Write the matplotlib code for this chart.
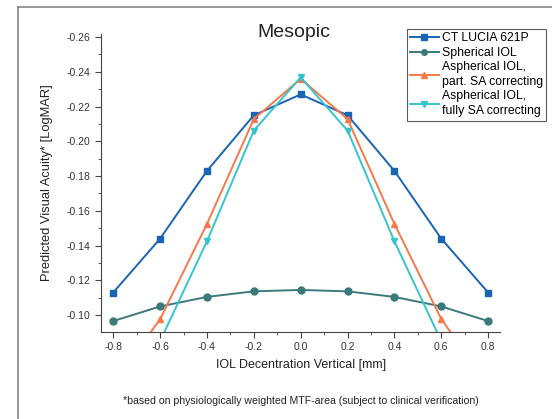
import matplotlib
matplotlib.use('Agg')
import matplotlib.pyplot as plt
from matplotlib.ticker import MultipleLocator, FormatStrFormatter

# data
x = [-0.8, -0.6, -0.4, -0.2, 0.0, 0.2, 0.4, 0.6, 0.8]
ct_lucia = [-0.113, -0.144, -0.183, -0.215, -0.227, -0.215, -0.183, -0.144, -0.113]
spherical = [-0.0966, -0.105, -0.1105, -0.1137, -0.1145, -0.1137, -0.1105, -0.105, -0.0966]
asph_part = [-0.060, -0.0977, -0.1525, -0.2128, -0.236, -0.2128, -0.1525, -0.0977, -0.060]
asph_full = [-0.030, -0.085, -0.1425, -0.2062, -0.2368, -0.2062, -0.1425, -0.085, -0.030]

labels = ['CT LUCIA 621P', 'Spherical IOL',
          'Aspherical IOL,\npart. SA correcting',
          'Aspherical IOL,\nfully SA correcting']
colors = ['#1a64b4', '#3a7a7a', '#f5794a', '#35c4d0']
markers = ['s', 'o', '^', 'v']

plt.rcParams['font.family'] = ['Liberation Sans', 'DejaVu Sans']

fig = plt.figure(figsize=(5.52, 4.19), dpi=100)
ax = fig.add_axes([0.183, 0.2076, 0.723, 0.711])

series = (ct_lucia, spherical, asph_part, asph_full)
for data, lab, c, m in zip(series, labels, colors, markers):
    ax.plot(x, data, color=c, marker=m, markersize=5, linewidth=1.4, label=lab)

ax.set_xlim(-0.852, 0.851)
ax.set_ylim(-0.0903, -0.2617)
ax.xaxis.set_major_locator(MultipleLocator(0.2))
ax.xaxis.set_minor_locator(MultipleLocator(0.1))
ax.yaxis.set_major_locator(MultipleLocator(0.02))
ax.yaxis.set_minor_locator(MultipleLocator(0.01))
ax.xaxis.set_major_formatter(FormatStrFormatter('%.1f'))
ax.yaxis.set_major_formatter(FormatStrFormatter('%.2f'))

for s in ('top', 'right'):
    ax.spines[s].set_visible(False)
for s in ('left', 'bottom'):
    ax.spines[s].set_color('#444444')
ax.tick_params(which='both', direction='out', colors='#444444', labelsize=7.5,
               labelcolor='#333333')
ax.tick_params(which='major', length=4)
ax.tick_params(which='minor', length=2.5)

ax.set_xlabel('IOL Decentration Vertical [mm]', fontsize=9, color='#222222', labelpad=5)
ax.set_ylabel('Predicted Visual Acuity* [LogMAR]', fontsize=9.3, color='#222222', labelpad=10)

fig.text(0.533, 0.923, 'Mesopic', fontsize=14, ha='center', va='center', color='#222222')
fig.text(0.545, 0.043, '*based on physiologically weighted MTF-area (subject to clinical verification)',
         fontsize=7.6, ha='center', va='center', color='#222222')

leg = ax.legend(loc='upper left', bbox_to_anchor=(0.766, 1.018), fontsize=8.8,
                frameon=True, fancybox=False, borderpad=0.3, handlelength=2.3,
                handletextpad=0.25, labelspacing=0.2, borderaxespad=0,
                markerscale=0.8)
for t in leg.get_texts():
    t.set_linespacing(1.3)
leg.get_frame().set_edgecolor('#333333')
leg.get_frame().set_linewidth(0.8)

# outer frame, partly cut off by the image edge
fig.add_artist(plt.Line2D([18 / 552, 18 / 552], [0, 1 - 7 / 419],
                          transform=fig.transFigure, color='#888888', linewidth=1.2))
fig.add_artist(plt.Line2D([18 / 552, 1], [1 - 7 / 419, 1 - 7 / 419],
                          transform=fig.transFigure, color='#888888', linewidth=1.2))

fig.savefig('out.png', dpi=100)
